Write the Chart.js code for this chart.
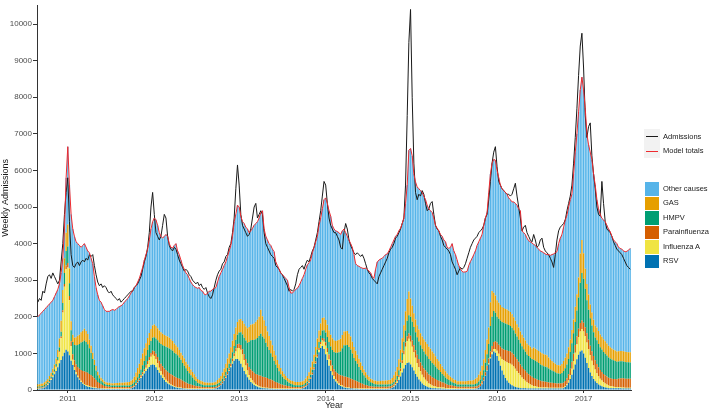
<!DOCTYPE html>
<html>
<head>
<meta charset="utf-8">
<script src="https://cdn.jsdelivr.net/npm/chart.js@4.4.1/dist/chart.umd.min.js"></script>
<style>
  html, body { margin: 0; padding: 0; background: #fff; }
  #wrap { position: relative; width: 709px; height: 412px; }
  #legend { position: absolute; left: 0; top: 0; font-family: "Liberation Sans", Arial, sans-serif; font-size: 7.5px; color: #1a1a1a; }
  .key { position: absolute; }
  .txt { position: absolute; left: 663px; white-space: nowrap; line-height: 14px; }
</style>
</head>
<body>
<div id="wrap">
  <canvas id="chart" width="709" height="412"></canvas>
  <div id="legend"></div>
</div>
<script>
// weekly series, Aug 2010 - Jul 2017 (357 weeks)

const admissions = [
  2400,2500,2450,2700,2650,2900,3100,3150,3050,3200,
  3100,3000,2900,3000,3500,4000,4800,5400,5800,4600,
  3700,3400,3350,3450,3500,3400,3500,3550,3500,3600,
  3550,3700,3650,3700,3400,3150,2950,2850,2900,2800,
  2850,2800,2700,2650,2700,2600,2550,2500,2450,2500,
  2400,2450,2500,2550,2600,2650,2700,2700,2800,2850,
  2900,3000,3100,3300,3500,3650,3900,4300,5000,5400,
  4800,4300,4200,4100,4200,4500,4800,4700,4200,3950,
  3850,3800,3900,3850,3700,3550,3450,3350,3250,3300,
  3250,3150,3100,3000,2950,2900,2950,2850,2900,2800,
  2750,2800,2650,2550,2500,2600,2800,3000,3150,3250,
  3300,3450,3500,3650,3700,3900,4000,4300,4700,5500,
  6150,5600,4800,4500,4400,4300,4200,4250,4400,4700,
  5000,5100,4700,4800,4900,4800,4300,4000,3900,3800,
  3700,3650,3600,3400,3350,3300,3200,3150,3050,2950,
  2850,2700,2750,2700,2750,2900,3150,3300,3350,3400,
  3300,3450,3550,3500,3650,3800,3900,4100,4300,4600,
  4900,5300,5700,5600,5100,4700,4500,4400,4300,4300,
  4200,4100,3900,3850,4300,4550,4400,4100,3950,3850,
  3750,3700,3750,3700,3650,3700,3600,3450,3300,3200,
  3150,3050,3000,2950,2900,3100,3200,3300,3400,3500,
  3600,3750,3850,3900,4000,4150,4200,4300,4400,4550,
  4700,5600,7500,9500,10400,8000,6200,5400,5200,5350,
  5300,5450,5350,5100,4900,4950,5100,5150,4800,4500,
  4400,4350,4200,4100,3950,3900,3850,3800,3700,3500,
  3400,3300,3150,3250,3350,3300,3350,3450,3600,3750,
  3900,4000,4100,4150,4200,4300,4350,4400,4500,4700,
  4800,5200,5700,6200,6500,6650,6100,5700,5600,5500,
  5450,5400,5350,5350,5300,5350,5500,5650,5300,5000,
  4700,4350,4450,4500,4300,4200,4100,4050,4250,4100,
  3900,3950,4100,4150,3900,3800,3750,3700,3600,3500,
  3350,3700,4100,4350,4450,4500,4550,4650,4900,5100,
  5300,5600,6200,6900,7700,8600,9400,9750,8800,7500,
  6900,7200,7300,6400,5900,5500,5000,4800,4750,5700,
  5100,4600,4400,4350,4300,4200,4050,3950,3850,3800,
  3750,3700,3600,3500,3400,3350,3300
];

const modelTotals = [
  2000,2050,2100,2150,2200,2250,2300,2350,2400,2450,
  2550,2650,2750,2900,3200,3600,4400,5800,6650,5600,
  4800,4400,4200,4050,4000,3950,3900,3950,4000,3900,
  3800,3750,3600,3450,3100,2800,2600,2450,2400,2300,
  2200,2150,2150,2150,2180,2200,2180,2200,2250,2280,
  2300,2340,2400,2450,2500,2570,2650,2720,2800,2850,
  2950,3050,3200,3350,3550,3700,3850,4100,4400,4600,
  4700,4650,4500,4300,4200,4150,4200,4250,4200,4000,
  3900,3880,3950,4000,3800,3700,3550,3400,3300,3200,
  3150,3050,2950,2880,2830,2800,2780,2800,2720,2700,
  2620,2600,2650,2700,2700,2750,2780,2800,2950,3100,
  3200,3300,3400,3500,3650,3800,3950,4200,4600,4800,
  5050,5000,4750,4600,4550,4450,4400,4300,4350,4420,
  4500,4550,4600,4700,4850,4900,4400,4200,4100,4000,
  3950,3850,3780,3500,3400,3300,3200,3150,3100,3050,
  3000,2800,2650,2650,2700,2750,2780,2850,2950,3050,
  3150,3300,3420,3480,3550,3750,3900,4050,4200,4500,
  4700,4950,5200,5250,5100,4900,4750,4500,4400,4350,
  4330,4300,4250,4350,4400,4300,4200,4100,4000,3900,
  3700,3450,3400,3380,3350,3330,3320,3330,3300,3250,
  3200,3100,3050,3300,3500,3550,3580,3600,3650,3700,
  3720,3800,3900,4000,4100,4200,4250,4350,4420,4550,
  4700,5100,5600,6550,6600,6400,5900,5680,5550,5500,
  5450,5400,5300,5200,5050,4950,4900,4850,4700,4500,
  4420,4350,4250,4200,4100,4050,3900,3870,3900,4000,
  3800,3700,3550,3400,3300,3240,3220,3230,3240,3400,
  3510,3600,3700,3800,3950,4050,4150,4250,4500,4700,
  4850,5400,5900,6200,6300,6280,6000,5800,5600,5500,
  5450,5400,5350,5250,5200,5140,5140,5100,5050,4950,
  4900,4350,4300,4250,4150,4080,4050,4020,3980,3950,
  3900,3850,3800,3780,3750,3720,3700,3700,3680,3700,
  3720,3750,3780,4000,4150,4250,4450,4650,4780,5000,
  5200,5350,5900,6500,7000,7600,8200,8550,8200,7700,
  7000,6700,6500,6300,5900,5600,5200,4950,4800,4690,
  4650,4600,4500,4400,4330,4200,4100,4050,4000,3900,
  3870,3850,3800,3780,3790,3820,3870
];

const rsv = [
  30,35,40,50,70,100,140,200,270,350,
  430,520,620,730,820,920,1020,1100,1050,950,
  800,680,550,430,350,280,220,170,135,110,
  90,80,70,60,50,45,40,40,35,35,
  30,30,30,30,30,30,30,30,30,30,
  30,30,30,30,30,30,40,60,90,140,
  200,260,330,390,450,520,580,630,680,700,
  680,620,550,470,400,330,270,220,180,150,
  120,100,80,70,60,50,45,40,35,35,
  30,30,30,30,30,30,30,30,30,30,
  30,30,30,30,30,30,35,40,60,90,
  130,180,250,330,420,520,620,720,800,850,
  850,800,720,620,520,430,350,280,220,180,
  140,110,90,70,60,50,45,40,40,35,
  35,35,30,30,30,30,30,30,30,30,
  30,30,30,30,30,30,30,30,30,40,
  60,90,130,200,300,420,560,720,880,1030,
  1150,1200,1120,980,820,660,520,400,300,230,
  180,140,110,90,70,60,50,45,40,40,
  35,35,35,30,30,30,30,30,30,30,
  30,30,30,30,30,30,30,30,30,30,
  30,35,40,60,90,130,190,270,370,480,
  590,680,740,750,700,620,530,440,360,290,
  230,180,140,110,90,70,60,50,45,45,
  40,40,40,35,35,35,30,30,30,30,
  30,30,30,30,30,30,30,30,30,30,
  30,30,30,35,40,60,100,160,250,380,
  530,700,860,980,1050,1020,930,800,660,530,
  420,330,260,200,160,130,100,80,70,60,
  50,45,45,45,40,40,40,40,40,40,
  40,40,40,40,40,40,40,40,40,40,
  40,40,40,40,40,40,50,80,130,200,
  300,420,560,700,840,960,1050,1080,1000,880,
  740,600,480,380,300,240,190,150,120,100,
  80,70,60,50,50,50,50,45,45,45,
  45,40,40,40,40,40,40
];

const influenzaA = [
  10,10,10,10,10,10,20,20,30,40,
  60,100,180,300,600,1200,1800,2200,2300,1500,
  400,150,80,60,40,30,30,30,30,30,
  30,20,20,20,20,20,10,10,10,10,
  10,10,10,10,10,10,10,10,10,10,
  10,10,10,10,10,10,10,10,10,10,
  10,10,20,40,60,90,130,180,230,260,
  250,220,180,140,110,90,70,60,50,40,
  30,30,20,20,20,20,20,10,10,10,
  10,10,10,10,10,10,10,10,10,10,
  10,10,10,10,10,10,10,10,10,10,
  10,10,10,10,10,10,30,60,120,200,
  300,350,380,350,300,240,180,130,100,80,
  60,50,40,30,30,20,20,20,20,10,
  10,10,10,10,10,10,10,10,10,10,
  10,10,10,10,10,10,10,10,10,10,
  10,10,10,10,10,10,10,10,30,60,
  100,150,200,230,220,180,140,100,80,60,
  50,40,30,30,20,20,20,20,10,10,
  10,10,10,10,10,10,10,10,10,10,
  10,10,10,10,10,10,10,10,10,10,
  10,10,10,10,20,30,40,80,150,250,
  380,500,600,650,620,560,500,440,380,330,
  280,240,200,170,140,110,90,70,60,50,
  40,40,30,30,30,20,20,20,20,20,
  20,20,10,10,10,10,10,10,10,10,
  10,10,10,10,10,10,10,10,10,10,
  20,30,40,55,70,100,140,190,250,320,
  390,450,500,540,560,560,540,500,450,400,
  350,300,250,210,170,140,110,90,70,60,
  50,40,30,30,30,30,30,20,20,20,
  20,20,20,20,20,20,20,20,30,60,
  100,160,230,320,410,490,550,590,600,590,
  560,520,470,420,370,320,270,230,190,160,
  130,110,90,70,60,50,40,40,30,30,
  30,30,30,20,20,20,20
];

const parainfluenza = [
  20,20,20,20,20,20,20,20,20,20,
  20,20,20,30,40,60,80,100,120,120,
  130,150,180,210,240,270,300,320,340,350,
  350,340,320,290,250,210,170,140,110,90,
  70,60,50,50,40,40,40,40,40,40,
  40,40,40,40,40,40,40,40,40,40,
  40,45,50,55,60,70,80,90,100,115,
  130,150,170,190,210,230,250,260,270,275,
  280,275,270,260,250,235,220,200,180,160,
  140,125,110,95,80,70,60,55,50,45,
  40,40,40,40,40,40,40,40,40,40,
  40,45,50,55,60,60,70,75,80,90,
  100,115,130,145,160,180,200,220,240,255,
  270,280,290,295,300,295,290,280,270,255,
  240,220,200,180,160,140,120,105,90,80,
  70,60,50,45,40,40,40,40,40,40,
  40,40,40,40,40,40,45,50,55,60,
  60,70,80,95,110,130,150,170,190,210,
  230,245,260,270,280,280,280,270,260,245,
  230,210,190,170,150,130,110,95,80,70,
  60,55,50,50,50,50,50,50,50,50,
  50,50,50,50,50,50,50,60,70,85,
  100,115,130,145,160,175,190,205,220,230,
  240,245,250,250,250,245,240,230,220,205,
  190,175,160,145,130,115,100,90,80,70,
  60,55,50,50,50,50,50,50,50,50,
  50,50,50,50,55,60,60,70,80,95,
  110,130,150,170,190,210,230,250,270,285,
  300,310,320,325,330,330,330,325,320,310,
  300,290,280,270,260,250,240,230,220,210,
  200,190,180,170,160,155,150,145,140,135,
  130,125,120,120,120,125,130,145,160,170,
  180,190,200,210,220,225,230,230,240,245,
  250,255,260,260,260,255,250,245,240,235,
  230,225,220,215,210,210,210,215,220,230,
  240,250,250,250,250,250,250
];

const hmpv = [
  30,30,30,30,40,40,40,50,50,60,
  60,70,80,100,130,200,300,400,450,350,
  300,330,420,520,600,680,750,800,850,820,
  780,700,600,480,360,260,180,130,100,80,
  60,50,50,45,45,40,40,40,40,40,
  40,40,40,40,40,40,50,60,70,85,
  100,130,160,190,220,260,300,330,330,350,
  380,420,460,500,540,575,610,640,660,670,
  680,670,650,640,620,580,540,490,440,390,
  340,295,250,210,170,135,100,85,70,60,
  50,50,50,50,50,50,50,55,60,60,
  60,70,80,95,110,130,150,175,200,230,
  260,305,350,400,450,500,560,680,800,850,
  900,950,1000,1080,1150,1100,1050,950,850,790,
  720,640,560,480,400,330,270,220,180,150,
  120,100,80,70,60,50,50,50,50,50,
  50,50,50,60,70,85,100,120,140,160,
  180,205,230,265,300,340,380,425,470,515,
  560,605,650,750,850,865,880,840,800,700,
  600,540,480,420,360,305,250,210,170,140,
  110,95,80,70,60,60,60,60,60,60,
  60,60,60,60,60,80,100,130,160,200,
  250,330,420,500,520,510,500,490,480,475,
  470,465,460,450,440,425,410,390,370,345,
  320,290,260,230,200,175,150,130,110,95,
  80,70,60,60,60,60,60,60,60,60,
  60,60,60,70,80,100,120,160,200,260,
  320,400,700,800,850,780,700,710,720,725,
  730,725,720,710,700,680,660,640,620,600,
  580,560,540,520,500,500,500,490,500,490,
  480,465,450,435,420,410,400,380,360,340,
  320,300,280,270,260,280,320,350,380,420,
  460,510,560,630,700,850,1100,1300,1200,1050,
  900,820,750,700,650,620,650,635,620,610,
  600,585,570,555,540,525,510,495,480,475,
  470,465,460,455,450,445,440
];

const gas = [
  60,60,70,70,70,80,80,90,100,110,
  130,150,200,250,300,350,400,500,600,400,
  250,200,200,220,250,250,280,300,320,300,
  280,230,200,170,150,120,100,90,80,70,
  60,60,60,60,60,60,65,70,70,75,
  80,80,85,90,95,100,110,120,150,200,
  250,275,300,325,350,340,330,330,330,340,
  350,340,330,325,320,310,300,300,300,290,
  280,265,250,235,220,205,190,200,200,180,
  180,170,160,150,140,120,100,95,90,85,
  80,75,70,70,70,70,75,80,100,120,
  140,170,200,230,260,280,300,315,330,340,
  350,355,360,370,380,390,400,410,420,435,
  450,475,500,525,650,550,500,460,420,385,
  350,315,280,250,220,195,170,150,130,115,
  100,95,90,90,90,90,90,90,95,100,
  100,125,150,175,200,225,250,275,300,315,
  330,340,350,340,330,325,320,320,320,325,
  330,340,350,365,380,380,380,365,350,325,
  300,275,250,225,200,180,160,140,120,110,
  100,95,90,90,90,90,95,100,105,110,
  110,115,120,150,180,215,250,300,350,400,
  450,525,600,650,500,440,380,355,330,330,
  330,335,340,340,340,335,330,315,300,280,
  260,240,220,200,180,165,150,135,120,110,
  100,95,90,90,90,90,90,90,95,100,
  100,110,120,140,160,190,220,260,300,350,
  400,450,650,700,500,475,450,435,420,410,
  400,400,400,390,380,370,360,350,340,340,
  320,315,310,305,300,295,290,285,330,330,
  330,330,330,330,330,330,330,300,280,260,
  240,230,220,225,230,245,270,285,300,320,
  340,360,380,415,450,550,800,900,700,550,
  450,415,380,360,340,330,350,350,350,350,
  350,340,330,320,310,300,290,285,280,280,
  280,280,280,280,280,280,280
];

// axis ticks
const yearLabels = ['2011', '2012', '2013', '2014', '2015', '2016', '2017'];
const yearWeeks = [18, 70, 121, 173, 224, 276, 328];
const yTicks = [0, 1000, 2000, 3000, 4000, 5000, 6000, 7000, 8000, 9000, 10000];

const weeks = admissions.map((v, i) => 'Week ' + (i + 1));

// other causes = model total minus the five pathogens
const otherCauses = modelTotals.map((t, i) => t - rsv[i] - influenzaA[i] - parainfluenza[i] - hmpv[i] - gas[i]);

const fillSeries = [
  { label: 'RSV', data: rsv, color: '#0072B2' },
  { label: 'Influenza A', data: influenzaA, color: '#F0E442' },
  { label: 'Parainfluenza', data: parainfluenza, color: '#D55E00' },
  { label: 'HMPV', data: hmpv, color: '#009E73' },
  { label: 'GAS', data: gas, color: '#E69F00' },
  { label: 'Other causes', data: otherCauses, color: '#56B4E9' }
];

Chart.defaults.font.family = '"Liberation Sans", Arial, sans-serif';

const datasets = fillSeries.map(s => ({
  type: 'bar',
  label: s.label,
  data: s.data,
  backgroundColor: s.color,
  borderWidth: 0,
  barPercentage: 0.8,
  categoryPercentage: 1.0,
  order: 3
}));

datasets.push({
  type: 'line',
  label: 'Admissions',
  data: admissions,
  borderColor: '#1a1a1a',
  borderWidth: 1,
  pointRadius: 0,
  tension: 0,
  stack: 'adm',
  order: 2
});
datasets.push({
  type: 'line',
  label: 'Model totals',
  data: modelTotals,
  borderColor: '#ee2a2f',
  borderWidth: 1,
  pointRadius: 0,
  tension: 0,
  stack: 'model',
  order: 1
});

new Chart(document.getElementById('chart'), {
  type: 'bar',
  data: { labels: weeks, datasets: datasets },
  options: {
    responsive: false,
    animation: false,
    devicePixelRatio: 1,
    layout: { padding: { top: 2, right: 78, left: 0, bottom: 0 } },
    plugins: { legend: { display: false }, tooltip: { enabled: false } },
    scales: {
      x: {
        stacked: true,
        grid: { display: true, drawOnChartArea: false, drawTicks: true, tickLength: 3, color: '#333', offset: false },
        border: { display: true, color: '#333', width: 1 },
        ticks: {
          autoSkip: false, maxRotation: 0, minRotation: 0, padding: 1,
          color: '#4d4d4d', font: { size: 8 },
          callback: function(value, index) {
            const k = yearWeeks.indexOf(index);
            return k >= 0 ? yearLabels[k] : null;
          }
        },
        title: { display: true, text: 'Year', color: '#1a1a1a', font: { size: 9 }, padding: { top: 0, bottom: 1 } },
        afterFit: function(scale) { scale.height = 22; }
      },
      y: {
        stacked: true,
        min: 0,
        max: 10500,
        grid: { display: true, drawOnChartArea: false, drawTicks: true, tickLength: 4, color: '#333' },
        border: { display: true, color: '#333', width: 1 },
        afterBuildTicks: function(scale) {
          scale.ticks = yTicks.map(v => ({ value: v }));
        },
        ticks: {
          autoSkip: false, padding: 1, color: '#4d4d4d', font: { size: 8 },
          callback: function(v) { return String(v); }
        },
        title: { display: true, text: 'Weekly Admissions', color: '#1a1a1a', font: { size: 9 }, padding: { top: 0, bottom: 0 } },
        afterFit: function(scale) { scale.width = 37; }
      }
    }
  }
});

// legend, drawn as html on the right
const legend = document.getElementById('legend');
const lineKeys = [
  { label: 'Admissions', color: '#1a1a1a', top: 129 },
  { label: 'Model totals', color: '#ee2a2f', top: 143.5 }
];
lineKeys.forEach(k => {
  const box = document.createElement('div');
  box.className = 'key';
  box.style.cssText = `left:644px;top:${k.top}px;width:16px;height:14.5px;background:#f2f2f2;`;
  const ln = document.createElement('div');
  ln.style.cssText = `position:absolute;left:2px;top:7px;width:12px;height:1px;background:${k.color};`;
  box.appendChild(ln);
  legend.appendChild(box);
  const t = document.createElement('div');
  t.className = 'txt';
  t.style.top = (k.top + 0.5) + 'px';
  t.textContent = k.label;
  legend.appendChild(t);
});

const fillOrder = fillSeries.slice().reverse();
fillOrder.forEach((s, i) => {
  const top = 182 + i * 14.5;
  const box = document.createElement('div');
  box.className = 'key';
  box.style.cssText = `left:645px;top:${top}px;width:14px;height:13.5px;background:${s.color};`;
  legend.appendChild(box);
  const t = document.createElement('div');
  t.className = 'txt';
  t.style.top = (top - 0.5) + 'px';
  t.textContent = s.label;
  legend.appendChild(t);
});
</script>
</body>
</html>
